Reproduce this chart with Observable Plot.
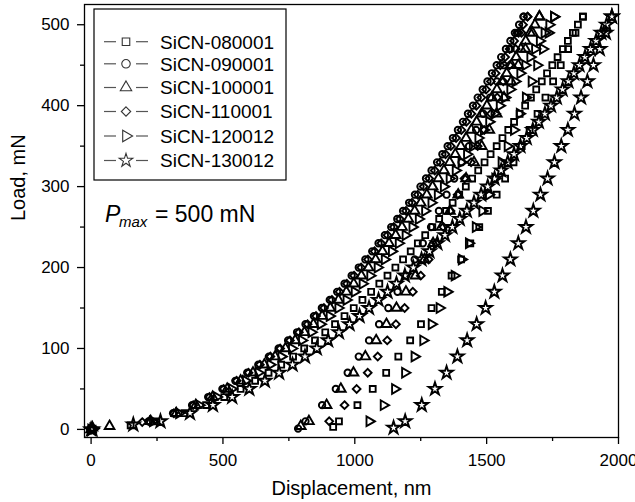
<!DOCTYPE html>
<html><head><meta charset="utf-8">
<script src="https://cdn.jsdelivr.net/npm/d3@7"></script>
<script src="https://cdn.jsdelivr.net/npm/@observablehq/plot@0.6"></script>
<style>body{margin:0;background:#fff}</style>
</head><body><div id="chart"></div>
<script>
// ---- data ----
const seriesNames = ["SiCN-080001","SiCN-090001","SiCN-100001","SiCN-110001","SiCN-120012","SiCN-130012"];
const xTicks = [0, 500, 1000, 1500, 2000];
const xMinorTicks = [250, 750, 1250, 1750];
const yTicks = [0, 100, 200, 300, 400, 500];
const yMinorTicks = [50, 150, 250, 350, 450];

// loading branch: load (mN)
const loadUp = [0,10,20,30,40,50,60,70,80,90,100,110,120,130,140,150,160,170,180,190,200,210,220,230,240,250,260,270,280,290,300,310,320,330,340,350,360,370,380,390,400,410,420,430,440,450,460,470,480,490,500,510];
// loading branch: displacement (nm)
const up080001 = [0,248,354,436,505,567,622,673,721,766,808,849,888,925,961,996,1029,1062,1093,1124,1154,1183,1212,1239,1267,1294,1320,1346,1371,1396,1421,1445,1468,1492,1515,1538,1560,1582,1604,1625,1646,1668,1688,1709,1729,1749,1769,1789,1808,1827,1846,1865];
const up090001 = [0,218,311,383,444,498,547,592,634,674,711,747,781,813,845,875,905,933,961,988,1015,1040,1066,1090,1114,1138,1161,1183,1206,1228,1249,1270,1291,1312,1332,1352,1372,1391,1410,1429,1448,1466,1485,1503,1520,1538,1555,1573,1590,1607,1623,1640];
const up100001 = [0,226,323,397,461,516,567,614,657,698,737,774,809,843,876,907,938,968,996,1025,1052,1079,1105,1130,1155,1179,1203,1227,1250,1273,1295,1317,1338,1360,1381,1402,1422,1442,1462,1481,1501,1520,1539,1558,1576,1594,1612,1630,1648,1665,1683,1700];
const up110001 = [0,220,314,387,449,503,552,597,640,680,717,754,788,821,853,883,913,942,970,997,1024,1050,1075,1100,1124,1148,1171,1194,1217,1239,1261,1282,1303,1324,1344,1364,1384,1404,1423,1442,1461,1480,1498,1516,1534,1552,1570,1587,1604,1621,1638,1655];
const up120012 = [0,234,333,410,476,533,586,634,679,721,761,799,835,870,904,937,968,999,1029,1058,1086,1113,1140,1166,1192,1218,1242,1266,1290,1314,1337,1359,1382,1404,1425,1447,1468,1489,1509,1529,1549,1569,1589,1608,1627,1646,1665,1683,1701,1719,1737,1755];
const up130012 = [0,263,375,462,535,600,659,713,764,811,856,899,940,980,1018,1054,1090,1124,1158,1190,1222,1253,1283,1313,1342,1370,1398,1425,1452,1479,1504,1530,1555,1580,1604,1628,1652,1675,1698,1721,1744,1766,1788,1810,1831,1852,1873,1894,1915,1935,1955,1975];

// early contact points: [displacement, load]
const head080001 = [[6, 1], [150, 5]];
const head090001 = [[4, 1]];
const head100001 = [[5, 2], [70, 4]];
const head110001 = [[3, 0], [194, 9]];
const head120012 = [[8, 1]];
const head130012 = [[5, 0], [160, 6]];

// unloading branch: load (mN)
const loadDown = [510,490,470,450,430,410,390,370,350,330,310,290,270,250,230,210,190,170,150,130,110,90,70,50,30,10];
// unloading branch: displacement (nm)
const down080001 = [1865,1837,1809,1781,1752,1723,1693,1663,1633,1602,1570,1538,1505,1472,1438,1403,1367,1330,1291,1251,1210,1165,1119,1068,1010,940];
const down090001 = [1640,1615,1590,1565,1539,1513,1487,1460,1433,1405,1377,1348,1319,1289,1258,1227,1195,1162,1127,1092,1054,1015,973,928,876,813];
const down100001 = [1700,1674,1647,1620,1593,1566,1538,1510,1481,1452,1422,1392,1361,1329,1297,1264,1230,1194,1158,1120,1081,1040,995,947,893,826];
const down110001 = [1655,1632,1610,1587,1563,1540,1516,1491,1466,1441,1416,1390,1363,1336,1308,1280,1250,1220,1189,1156,1123,1087,1049,1007,961,903];
const down120012 = [1755,1734,1713,1691,1670,1648,1625,1603,1579,1556,1532,1508,1483,1458,1432,1405,1378,1350,1321,1291,1259,1226,1190,1152,1109,1055];
const down130012 = [1975,1952,1929,1905,1882,1858,1833,1808,1783,1757,1731,1704,1677,1649,1620,1590,1560,1529,1496,1462,1426,1389,1348,1304,1254,1191];

// last points after full unloading: [displacement, load]
const tail080001 = [[918, 3]];
const tail090001 = [[785, 1]];
const tail100001 = [[795, 4]];
const tail110001 = [];
const tail120012 = [];
const tail130012 = [[1147, 2]];

// ---- build table ----
const ups = [up080001, up090001, up100001, up110001, up120012, up130012];
const heads = [head080001, head090001, head100001, head110001, head120012, head130012];
const downs = [down080001, down090001, down100001, down110001, down120012, down130012];
const tails = [tail080001, tail090001, tail100001, tail110001, tail120012, tail130012];
const rows = [];
seriesNames.forEach((s, i) => {
  heads[i].forEach(([h, P]) => rows.push({series: s, h, P}));
  ups[i].forEach((h, k) => rows.push({series: s, h, P: loadUp[k]}));
  downs[i].forEach((h, k) => rows.push({series: s, h, P: loadDown[k]}));
  tails[i].forEach(([h, P]) => rows.push({series: s, h, P}));
});

// right-pointing triangle symbol
const triangleRight = {
  draw(context, size) {
    const y = -Math.sqrt(size / (Math.sqrt(3) * 3));
    context.moveTo(-2 * y, 0);
    context.lineTo(y, -Math.sqrt(3) * y);
    context.lineTo(y, Math.sqrt(3) * y);
    context.closePath();
  }
};
const symbols = ["square", "circle", "triangle", "diamond2", triangleRight, "star"];
const radii = [3.3, 3.2, 3.6, 3.5, 3.6, 4.0];
const d3symbols = [d3.symbolSquare, d3.symbolCircle, d3.symbolTriangle, d3.symbolDiamond2, triangleRight, d3.symbolStar];

const font = "'Liberation Sans', Arial, Helvetica, sans-serif";

const dotMarks = seriesNames.map((s, i) =>
  Plot.dot(rows.filter(d => d.series === s), {
    x: "h", y: "P", symbol: symbols[i], r: radii[i],
    stroke: "black", strokeWidth: 1.9, fill: "none"
  })
);

const fmt = d => String(d);

const chart = Plot.plot({
  width: 635, height: 502,
  marginLeft: 84, marginRight: 17, marginTop: 4, marginBottom: 65,
  x: {domain: [-25, 2000]},
  y: {domain: [-10, 525]},
  style: {fontFamily: font, fontSize: "17px", color: "black", background: "white", overflow: "visible"},
  marks: [
    Plot.axisX({ticks: xTicks, tickSize: 7, tickPadding: 9, tickFormat: fmt, label: null, strokeWidth: 1.3, fontSize: 17}),
    Plot.axisX({ticks: xMinorTicks, tickSize: 4, tickFormat: () => "", label: null, strokeWidth: 1.3}),
    Plot.axisY({ticks: yTicks, tickSize: 7, tickPadding: 8, tickFormat: fmt, label: null, strokeWidth: 1.3, fontSize: 17}),
    Plot.axisY({ticks: yMinorTicks, tickSize: 4, tickFormat: () => "", label: null, strokeWidth: 1.3}),
    Plot.text(["Displacement, nm"], {frameAnchor: "bottom", dy: 57, fontSize: 20}),
    Plot.text(["Load, mN"], {frameAnchor: "left", dx: -66, rotate: -90, fontSize: 20}),
    ...dotMarks,
    Plot.frame({stroke: "black", strokeWidth: 1.3})
  ]
});

// legend & annotation
const svg = d3.select(chart);
const lg = svg.append("g").attr("font-family", font).attr("text-anchor", "start");
lg.append("rect").attr("x", 94).attr("y", 9).attr("width", 192).attr("height", 171)
  .attr("fill", "white").attr("stroke", "black").attr("stroke-width", 1.2);
const rowY = [41.7, 63.8, 87.5, 111.5, 136, 160.5];
seriesNames.forEach((s, i) => {
  const g = lg.append("g").attr("transform", `translate(0,${rowY[i]})`);
  g.append("line").attr("x1", 104).attr("x2", 116).attr("y1", 0).attr("y2", 0)
    .attr("stroke", "#555").attr("stroke-width", 1.2);
  g.append("line").attr("x1", 136).attr("x2", 148).attr("y1", 0).attr("y2", 0)
    .attr("stroke", "#555").attr("stroke-width", 1.2);
  g.append("path").attr("transform", "translate(126,0)")
    .attr("d", d3.symbol(d3symbols[i], Math.PI * 18)())
    .attr("fill", "white").attr("stroke", "#333").attr("stroke-width", 1.1);
  g.append("text").attr("x", 160).attr("dy", "0.36em").attr("font-size", 19).attr("fill", "black").text(s);
});
const ann = svg.append("text").attr("font-family", font).attr("fill", "black").attr("text-anchor", "start").attr("y", 222);
ann.append("tspan").attr("x", 105).attr("font-size", 23).attr("font-style", "italic").text("P");
ann.append("tspan").attr("x", 119).attr("dy", 5).attr("font-size", 15).attr("font-style", "italic").text("max");
ann.append("tspan").attr("x", 155).attr("dy", -5).attr("font-size", 23).text("= 500 mN");

document.getElementById("chart").appendChild(chart);
</script>
</body></html>
